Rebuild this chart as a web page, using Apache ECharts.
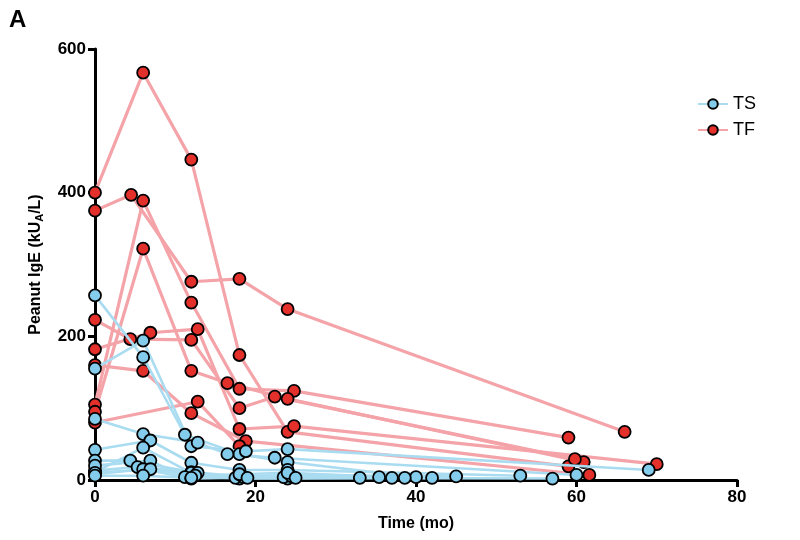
<!DOCTYPE html>
<html><head><meta charset="utf-8">
<script src="https://cdn.jsdelivr.net/npm/echarts@6/dist/echarts.min.js"></script>
<style>html,body{margin:0;padding:0;background:#fff}#c{width:800px;height:540px}</style>
</head><body><div id="c"></div>
<script>
// Tick labels
const xTicks = [0, 20, 40, 60, 80];
const yTicks = [0, 200, 400, 600];
// Treatment-failure (TF) patients: [month, IgE]
const tfPatients = [
  [[0,400],[6,567],[12,446],[18,174],[24,67],[59,19]],
  [[0,375],[4.5,397],[12,276],[18,280],[24,238],[66,67]],
  [[0,105],[6,389],[12,247],[18,127],[24.8,124],[59,59]],
  [[0,95],[6,322],[12,152],[16.5,135],[24,113],[60.9,25]],
  [[0,223],[4.4,196],[12,195],[18,100],[22.4,116],[59.8,29]],
  [[0,182],[6.9,205],[12.8,210],[18,71],[24.8,75],[70,22]],
  [[0,160],[6,152],[12,93],[18.8,54],[61.6,7]],
  [[0,80],[12.8,109],[18,47]]
];
// Tolerance-success (TS) patients: [month, IgE]
const tsPatients = [
  [[0,257],[6,171],[11.2,63],[18,36],[24,25],[40,4]],
  [[0,155],[6,194],[12,47],[18.8,40],[24,43],[69,14]],
  [[0,85],[6,64],[12.8,52],[16.5,36],[22.4,31],[60,7]],
  [[0,42],[6.9,55],[12,24],[18,14],[24,14],[53,6]],
  [[0,27],[4.4,27],[12,11],[18,5],[24,7],[45,5]],
  [[0,11],[6,45],[12,10],[18,3],[24,3],[57,2]],
  [[0,13],[5.3,18],[12.8,10],[18,2],[24,2],[33,3]],
  [[0,20],[6.9,27],[11.2,4],[17.5,3],[23.5,4],[35.4,4]],
  [[0,8],[6,15],[12,2],[18.5,4],[24.5,5],[37,3]],
  [[0,10],[6.9,15],[12.5,6],[18,8],[24,10],[38.6,3]],
  [[0,6],[6,6],[12,3],[19,3],[25,3],[42,3]]
];
const groupNames = ['TS', 'TF'];

const tsLine = '#a9dcf0', tsFill = '#84ccec';
const tfLine = '#f4a3a8', tfFill = '#e3302a';
const FONT = 'Liberation Sans, Arial, sans-serif';

function mk(name, data, lc, fc, w) {
  return {
    type: 'line', name: name, data: data, symbol: 'circle', symbolSize: 12,
    lineStyle: {color: lc, width: w},
    itemStyle: {color: fc, borderColor: '#000', borderWidth: 1.8},
    emphasis: {disabled: true}, silent: true, z: name === 'TS' ? 3 : 2
  };
}
const series = [];
tfPatients.forEach(p => series.push(mk('TF', p, tfLine, tfFill, 3.2)));
tsPatients.forEach(p => series.push(mk('TS', p, tsLine, tsFill, 2.6)));

const chart = echarts.init(document.getElementById('c'), null, {renderer: 'canvas'});
chart.setOption({
  animation: false,
  backgroundColor: '#fff',
  textStyle: {fontFamily: FONT},
  graphic: [{type: 'text', left: 9, top: 8, style: {text: 'A', font: 'bold 24px ' + FONT, fill: '#000'}}],
  legend: {
    data: groupNames, orient: 'vertical', left: 692, top: 90, itemWidth: 30, itemHeight: 12, itemGap: 8,
    textStyle: {fontSize: 18, color: '#000', fontFamily: FONT}
  },
  grid: {left: 95, right: 63, top: 49, bottom: 60, containLabel: false},
  xAxis: {
    type: 'value', min: xTicks[0], max: xTicks[xTicks.length - 1], interval: 20,
    name: 'Time (mo)', nameLocation: 'middle', nameGap: 36,
    nameTextStyle: {fontSize: 16, fontWeight: 'bold', color: '#000', fontFamily: FONT},
    axisLine: {lineStyle: {color: '#000', width: 3}},
    axisTick: {length: 7, lineStyle: {color: '#000', width: 3}},
    axisLabel: {fontSize: 17, fontWeight: 'bold', color: '#000', margin: 9, fontFamily: FONT},
    splitLine: {show: false}
  },
  yAxis: {
    type: 'value', min: yTicks[0], max: yTicks[yTicks.length - 1], interval: 200,
    name: 'Peanut IgE (kU{s|A}/L)', nameLocation: 'middle', nameGap: 50, nameRotate: 90,
    nameTextStyle: {fontSize: 16, fontWeight: 'bold', color: '#000', fontFamily: FONT,
      rich: {s: {fontSize: 11, fontWeight: 'bold', color: '#000', fontFamily: FONT, verticalAlign: 'bottom', padding: [8, 0, 0, 0]}}},
    axisLine: {show: true, lineStyle: {color: '#000', width: 3}},
    axisTick: {show: true, length: 7, lineStyle: {color: '#000', width: 3}},
    axisLabel: {fontSize: 17, fontWeight: 'bold', color: '#000', margin: 9, fontFamily: FONT},
    splitLine: {show: false}
  },
  series: series
});
</script></body></html>
